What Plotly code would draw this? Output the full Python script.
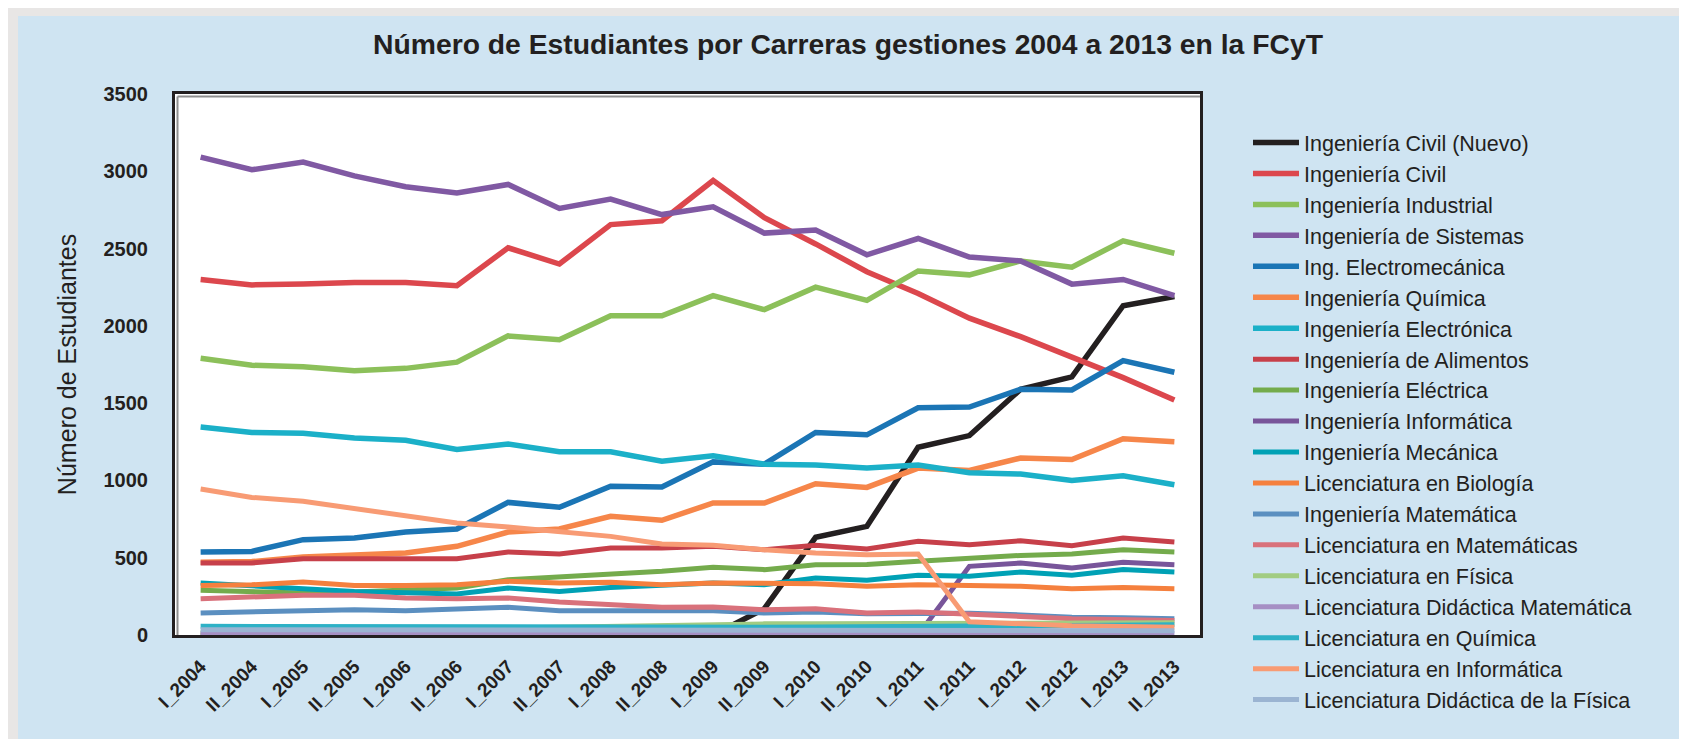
import plotly.graph_objects as go

semestres = ["I_2004", "II_2004", "I_2005", "II_2005", "I_2006", "II_2006", "I_2007", "II_2007",
             "I_2008", "II_2008", "I_2009", "II_2009", "I_2010", "II_2010", "I_2011", "II_2011",
             "I_2012", "II_2012", "I_2013", "II_2013"]

civil_nuevo = [None, None, None, None, None, None, None, None, None, None,
               0, 170, 632, 703, 1215, 1290, 1590, 1670, 2130, 2190]
civil = [2300, 2265, 2270, 2280, 2280, 2260, 2505, 2400, 2655, 2680,
         2940, 2700, 2530, 2350, 2210, 2050, 1930, 1800, 1665, 1520]
industrial = [1790, 1745, 1735, 1710, 1725, 1765, 1935, 1910, 2065, 2065,
              2195, 2105, 2250, 2165, 2355, 2330, 2420, 2380, 2550, 2470]
sistemas = [3092, 3010, 3060, 2970, 2900, 2860, 2915, 2760, 2820, 2720,
            2770, 2600, 2620, 2460, 2565, 2445, 2420, 2270, 2300, 2195]
electromecanica = [537, 541, 617, 627, 666, 686, 858, 826, 962, 957,
                   1120, 1105, 1310, 1295, 1470, 1475, 1590, 1585, 1775, 1700]
quimica = [470, 475, 504, 515, 530, 574, 666, 686, 768, 742,
           854, 854, 979, 955, 1080, 1065, 1145, 1135, 1270, 1250]
electronica = [1345, 1310, 1305, 1275, 1260, 1200, 1235, 1185, 1185, 1125,
               1160, 1105, 1100, 1080, 1100, 1050, 1041, 1000, 1030, 972]
alimentos = [466, 466, 494, 495, 498, 494, 537, 524, 563, 563,
             574, 552, 580, 556, 606, 584, 610, 578, 627, 602]
electrica = [289, 283, 272, 278, 293, 304, 358, 375, 397, 412,
             438, 423, 455, 456, 477, 498, 515, 524, 552, 537]
informatica = [0, 0, 0, 0, 0, 0, 0, 0, 0, 0,
               0, 0, 0, 0, 0, 444, 466, 433, 470, 455]
mecanica = [336, 315, 300, 282, 272, 265, 304, 282, 308, 321,
            336, 325, 369, 354, 386, 380, 407, 386, 423, 407]
biologia = [321, 325, 343, 321, 321, 325, 347, 336, 341, 325,
            336, 332, 332, 315, 325, 321, 315, 300, 308, 300]
ing_matematica = [142, 149, 164, 164, 157, 170, 179, 157, 157, 153,
                  157, 142, 149, 138, 142, 140, 130, 115, 112, 105]
lic_matematicas = [235, 250, 257, 257, 239, 235, 239, 213, 192, 179,
                   181, 164, 170, 142, 149, 131, 120, 105, 100, 93]
lic_fisica = [15, 18, 22, 28, 32, 38, 45, 52, 58, 65,
              70, 72, 72, 74, 75, 76, 78, 78, 80, 80]
lic_didactica_mat = [10, 10, 10, 10, 10, 12, 12, 12, 12, 12,
                     12, 12, 12, 12, 12, 12, 12, 12, 12, 12]
lic_quimica = [56, 55, 55, 54, 52, 52, 55, 52, 52, 50,
               52, 50, 52, 52, 55, 55, 60, 62, 65, 67]
lic_informatica = [944, 890, 865, 817, 768, 724, 699, 666, 638, 589,
                   580, 552, 530, 519, 524, 85, 70, 60, 55, 50]
lic_didactica_fis = [34, 34, 33, 32, 32, 32, 33, 32, 32, 30,
                     30, 30, 30, 30, 30, 28, 28, 28, 28, 28]

carreras = ["Ingeniería Civil (Nuevo)", "Ingeniería Civil", "Ingeniería Industrial",
            "Ingeniería de Sistemas", "Ing. Electromecánica", "Ingeniería Química",
            "Ingeniería Electrónica", "Ingeniería de Alimentos", "Ingeniería Eléctrica",
            "Ingeniería Informática", "Ingeniería Mecánica", "Licenciatura en Biología",
            "Ingeniería Matemática", "Licenciatura en Matemáticas", "Licenciatura en Física",
            "Licenciatura Didáctica Matemática", "Licenciatura en Química",
            "Licenciatura en Informática", "Licenciatura Didáctica de la Física"]
valores = [civil_nuevo, civil, industrial, sistemas, electromecanica, quimica,
           electronica, alimentos, electrica, informatica, mecanica, biologia,
           ing_matematica, lic_matematicas, lic_fisica, lic_didactica_mat,
           lic_quimica, lic_informatica, lic_didactica_fis]
colores = ["#231f20", "#dc474d", "#8cc05a", "#8059a3", "#1b75b5", "#f6864a",
           "#1bb0c8", "#c7404a", "#74ab4c", "#78559a", "#00a1b5", "#f5803e",
           "#5b8fc0", "#d9717b", "#a2cc82", "#a68fc4", "#2eb1c6", "#f89b74", "#9bb4d2"]
anchos = [5.5, 5.5, 5.5, 5.5, 5.5, 5.5, 5.5, 5, 5, 5, 5, 5, 5, 5, 5, 5, 5, 5, 5]

FONT = "Liberation Sans, Arial, sans-serif"
TXT = "#231f20"

fig = go.Figure()
for i, (nombre, vals, col, w) in enumerate(zip(carreras, valores, colores, anchos)):
    fig.add_trace(go.Scatter(
        x=semestres, y=vals, name=nombre, mode="lines",
        line=dict(color=col, width=w), legendgroup="g%d" % i,
        connectgaps=False,
    ))

W, H = 1687, 739
L, R, T, B = 167, 495, 86, 112
pw = W - L - R
ph = H - T - B

fig.update_layout(
    width=W, height=H, autosize=False,
    margin=dict(l=L, r=R, t=T, b=B, autoexpand=False),
    paper_bgcolor="#cfe4f2",
    plot_bgcolor="#ffffff",
    font=dict(family=FONT, color=TXT),
    title=dict(text="<b>Número de Estudiantes por Carreras gestiones 2004 a 2013 en la FCyT</b>",
               x=840 / W, xref="container", xanchor="center",
               y=1 - 36 / H, yref="container", yanchor="middle",
               font=dict(size=28.3, family=FONT, color=TXT)),
    showlegend=True,
    legend=dict(x=(1240 - L) / pw, xanchor="left", y=(H - B - 114) / ph, yanchor="top",
                bgcolor="rgba(0,0,0,0)", font=dict(size=21.5, family=FONT, color=TXT),
                itemwidth=46, tracegroupgap=1, traceorder="normal", maxheight=720),
    xaxis=dict(type="category", range=[-0.5, 19.5], showgrid=False, zeroline=False,
               showline=True, linecolor=TXT, linewidth=3, mirror=True,
               tickangle=-45, ticks="", ticklabelstandoff=10,
               tickfont=dict(size=19, family=FONT, color=TXT, weight="bold")),
    yaxis=dict(range=[0, 3500], dtick=500, showgrid=False, zeroline=False,
               showline=True, linecolor=TXT, linewidth=3, mirror=True,
               ticks="", ticklabelstandoff=20,
               tickfont=dict(size=20, family=FONT, color=TXT, weight="bold"),
               title=dict(text="Número de Estudiantes", standoff=20,
                          font=dict(size=25, family=FONT, color=TXT))),
    shapes=[
        dict(type="rect", xref="paper", yref="paper", layer="below",
             x0=-L / pw, x1=(10 - L) / pw, y0=-B / ph, y1=(H - T) / ph,
             fillcolor="#e8e6e5", line=dict(width=0)),
        dict(type="rect", xref="paper", yref="paper", layer="below",
             x0=-L / pw, x1=(W - L) / pw, y0=(H - B - 8) / ph, y1=(H - B) / ph,
             fillcolor="#e8e6e5", line=dict(width=0)),
        dict(type="line", xref="paper", yref="paper", layer="below",
             x0=2.5 / pw, x1=2.5 / pw, y0=0, y1=1 - 2.5 / ph,
             line=dict(color="#8f8f8f", width=2)),
        dict(type="line", xref="paper", yref="paper", layer="below",
             x0=2.5 / pw, x1=1, y0=1 - 2.5 / ph, y1=1 - 2.5 / ph,
             line=dict(color="#8f8f8f", width=2)),
    ],
)

fig.write_html("out.html")
